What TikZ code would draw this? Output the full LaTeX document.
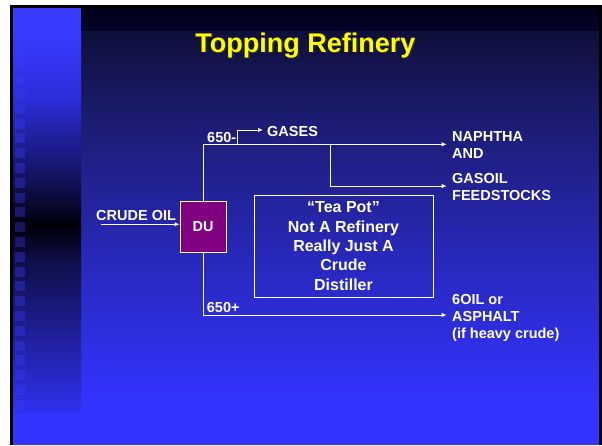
\documentclass[tikz,border=0pt]{standalone}
\usepackage{fontspec}
\setmainfont{Liberation Sans}
\usetikzlibrary{arrows.meta}
\definecolor{slideblue}{HTML}{3333FF}
\definecolor{stripbright}{HTML}{3A3AFF}
\definecolor{duviolet}{HTML}{800080}
\definecolor{titleyellow}{HTML}{FFFF00}
\definecolor{bgA}{HTML}{01011C}
\definecolor{bgB}{HTML}{04042A}
\definecolor{bgC}{HTML}{0F0F3A}
\definecolor{bgD}{HTML}{1C1C72}
\definecolor{bgE}{HTML}{2626AD}
\definecolor{stA}{HTML}{2C2CD8}
\definecolor{stB}{HTML}{0E0E48}
\definecolor{stC}{HTML}{000008}
\definecolor{stD}{HTML}{3030EE}
\begin{document}
\begin{tikzpicture}[x=1pt,y=-1pt,
  lbl/.style={text=white,font=\fontsize{14.5}{17}\selectfont\bfseries,inner sep=0pt},
  mlbl/.style={lbl,align=left,anchor=north west},
  conn/.style={draw=white,line width=1pt},
  arr/.style={conn,-{Latex[length=5pt,width=4.5pt]}},
  sq/.style={fill=stripbright,fill opacity=0.35},
  titlefont/.style={font=\fontsize{27}{32}\selectfont\bfseries,inner sep=0pt,anchor=base},
  dubox/.style={draw=white,line width=1pt,fill=duviolet,minimum width=46pt,minimum height=51pt,inner sep=0pt,text=white,font=\fontsize{14.5}{17}\selectfont\bfseries},
  teabox/.style={draw=white,line width=1pt,minimum width=179pt,minimum height=102pt,inner sep=0pt,text=white,align=center,font=\fontsize{16}{19.4}\selectfont\bfseries}
]
\useasboundingbox (0,0) rectangle (602,445);
% page and slide background
\fill[white] (0,0) rectangle (602,445);
\fill[black] (10,5) rectangle (602,445);
\shade[top color=bgA,bottom color=bgB] (13,8) rectangle (599,31.5);
\shade[top color=bgC,bottom color=bgD] (13,31) rectangle (599,120.5);
\shade[top color=bgD,bottom color=bgE] (13,120) rectangle (599,230.5);
\shade[top color=bgE,bottom color=slideblue] (13,230) rectangle (599,400.5);
\fill[slideblue] (13,400) rectangle (599,445);
% left strip
\fill[stripbright] (13,8) rectangle (81,35.5);
\shade[top color=stripbright,bottom color=stA] (13,35) rectangle (81,100.5);
\shade[top color=stA,bottom color=stB] (13,100) rectangle (81,190.5);
\shade[top color=stB,bottom color=stC] (13,190) rectangle (81,225.5);
\shade[top color=stC,bottom color=stB] (13,225) rectangle (81,260.5);
\shade[top color=stB,bottom color=stD] (13,260) rectangle (81,412);
\foreach \k in {0,...,26}{
  \fill[sq] (15,{15+14.8*\k}) rectangle ++(10,10);
}
% title
\node[titlefont,text=black!85] (titleshadow) at (307,53.5) {Topping Refinery};
\node[titlefont,text=titleyellow] (title) at (305.4,52) {Topping Refinery};
% units
\node[dubox] (du) at (203,226.5) {DU};
\node[teabox] (teapot) at (343.5,246) {“Tea Pot”\\Not A Refinery\\Really Just A\\Crude\\Distiller};
% labels
\node[lbl,anchor=base west] (l650m) at (207,142) {650-};
\node[lbl,anchor=base west] (gases) at (267,136) {GASES};
\node[mlbl] (naphtha) at (452,131.7) {NAPHTHA\\AND};
\node[mlbl] (gasoil) at (452,173.3) {GASOIL\\FEEDSTOCKS};
\node[lbl,anchor=base west] (crude) at (96,220) {CRUDE OIL};
\node[lbl,anchor=base west] (l650p) at (206.7,312.7) {650+};
\node[mlbl] (sixoil) at (452,293.8) {6OIL or\\ASPHALT\\(if heavy crude)};
% connectors
\coordinate (crudein) at (100.7,224.3);
\draw[arr] (crudein) -- (crudein -| du.west);
\coordinate (topright) at (446.7,144.3);
\draw[arr] (du.north) -- (du.north |- topright) -- (topright);
\coordinate (gasfork) at (237.7,144.3);
\coordinate (gasend) at (263,130);
\draw[arr] (gasfork) -- (gasfork |- gasend) -- (gasend);
\coordinate (oilfork) at (330.7,144.3);
\coordinate (oilend) at (446.7,186);
\draw[arr] (oilfork) -- (oilfork |- oilend) -- (oilend);
\coordinate (botend) at (446.7,315);
\draw[arr] (du.south) -- (du.south |- botend) -- (botend);
\end{tikzpicture}
\end{document}
